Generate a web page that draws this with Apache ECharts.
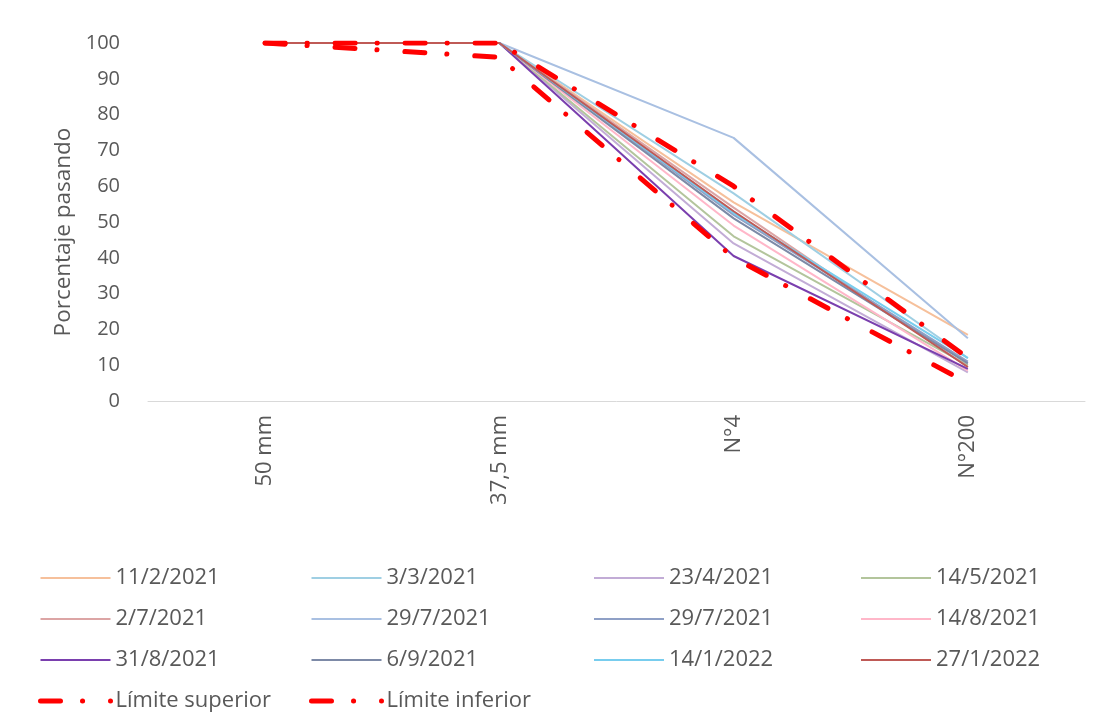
<!DOCTYPE html>
<html>
<head>
<meta charset="utf-8">
<script src="https://cdn.jsdelivr.net/npm/echarts@6/dist/echarts.min.js"></script>
<style>html,body{margin:0;padding:0;background:#fff;}#c{width:1107px;height:719px;}</style>
</head>
<body>
<div id="c"></div>
<script>
const categories = ['50 mm', '37,5 mm', 'N°4', 'N°200'];
const yTicks = [0, 10, 20, 30, 40, 50, 60, 70, 80, 90, 100];

const s_11_2_2021 = [100, 100, 55.5, 18.5];
const s_3_3_2021 = [100, 100, 58, 12];
const s_23_4_2021 = [100, 100, 44, 8];
const s_14_5_2021 = [100, 100, 46, 10];
const s_2_7_2021 = [100, 100, 54, 9.5];
const s_29_7_2021a = [100, 100, 73.5, 17.5];
const s_29_7_2021b = [100, 100, 52, 11];
const s_14_8_2021 = [100, 100, 49, 8.5];
const s_31_8_2021 = [100, 100, 40.5, 9];
const s_6_9_2021 = [100, 100, 51, 10.5];
const s_14_1_2022 = [100, 100, 52.5, 12];
const s_27_1_2022 = [100, 100, 53, 9.5];
const limiteSuperior = [100, 100, 60, 12];
const limiteInferior = [100, 96, 40, 5];

const seriesDefs = [
  ['11/2/2021', s_11_2_2021, '#f6c09b'],
  ['3/3/2021', s_3_3_2021, '#9fcfe3'],
  ['23/4/2021', s_23_4_2021, '#c2acd6'],
  ['14/5/2021', s_14_5_2021, '#b3c59c'],
  ['2/7/2021', s_2_7_2021, '#dca5a5'],
  ['29/7/2021', s_29_7_2021a, '#a9c0e2'],
  ['29/7/2021 (b)', s_29_7_2021b, '#8fa0c6'],
  ['14/8/2021', s_14_8_2021, '#ffb7c9'],
  ['31/8/2021', s_31_8_2021, '#7a3fae'],
  ['6/9/2021', s_6_9_2021, '#7d8aa7'],
  ['14/1/2022', s_14_1_2022, '#78cdee'],
  ['27/1/2022', s_27_1_2022, '#bf5a56']
];

const FONT = 'Open Sans';
const TXT = '#595959';

const series = seriesDefs.map(d => ({
  name: d[0], type: 'line', data: d[1], symbol: 'none', color: d[2],
  lineStyle: { width: 2, color: d[2] }
}));
const dashPattern = [20, 22, 0.1, 27.9];
const limitLine = { width: 5, color: '#ff0000', type: dashPattern, cap: 'round' };
series.push({
  name: 'Límite superior', type: 'line', data: limiteSuperior, symbol: 'none', color: '#ff0000', z: 5,
  lineStyle: limitLine
});
series.push({
  name: 'Límite inferior', type: 'line', data: limiteInferior, symbol: 'none', color: '#ff0000', z: 5,
  lineStyle: limitLine
});

function legendItem(n) {
  if (n.indexOf('Límite') === 0) return { name: n, lineStyle: { width: 5, color: '#ff0000', type: dashPattern, cap: 'round' } };
  return { name: n, lineStyle: { width: 2 } };
}

function legendCol(left, names) {
  return {
    orient: 'vertical', left: left, top: 557.5, height: 200, padding: 0,
    itemWidth: 70, itemHeight: 14, itemGap: 0,
    data: names.map(legendItem),
    formatter: n => n.replace(' (b)', ''),
    itemStyle: { opacity: 0 },
    textStyle: { fontFamily: FONT, fontSize: 22, color: TXT, lineHeight: 41, padding: [0, 0, 0, 0] },
    selectedMode: false
  };
}

const chart = echarts.init(document.getElementById('c'), null, { renderer: 'canvas' });
chart.setOption({
  animation: false,
  backgroundColor: '#ffffff',
  grid: { left: 148, right: 22, top: 43, bottom: 318, containLabel: false },
  legend: [
    legendCol(38, ['11/2/2021', '2/7/2021', '31/8/2021', 'Límite superior']),
    legendCol(309, ['3/3/2021', '29/7/2021', '6/9/2021', 'Límite inferior']),
    legendCol(593, ['23/4/2021', '29/7/2021 (b)', '14/1/2022']),
    legendCol(860, ['14/5/2021', '14/8/2021', '27/1/2022'])
  ],
  xAxis: {
    type: 'category', data: categories, boundaryGap: true,
    axisLine: { show: true, lineStyle: { color: '#d9d9d9', width: 1 } },
    axisTick: { show: false },
    axisLabel: { rotate: 90, margin: 14, fontFamily: FONT, fontSize: 22, color: TXT }
  },
  yAxis: {
    type: 'value', min: yTicks[0], max: yTicks[yTicks.length - 1], interval: 10,
    name: 'Porcentaje pasando', nameLocation: 'middle', nameGap: 67,
    nameTextStyle: { fontFamily: FONT, fontSize: 22.5, color: TXT, padding: [0, 20, 0, 0] },
    axisLine: { show: false }, axisTick: { show: false },
    splitLine: { show: false },
    axisLabel: { margin: 28, fontFamily: FONT, fontSize: 20, color: TXT }
  },
  series: series
});
</script>
</body>
</html>
